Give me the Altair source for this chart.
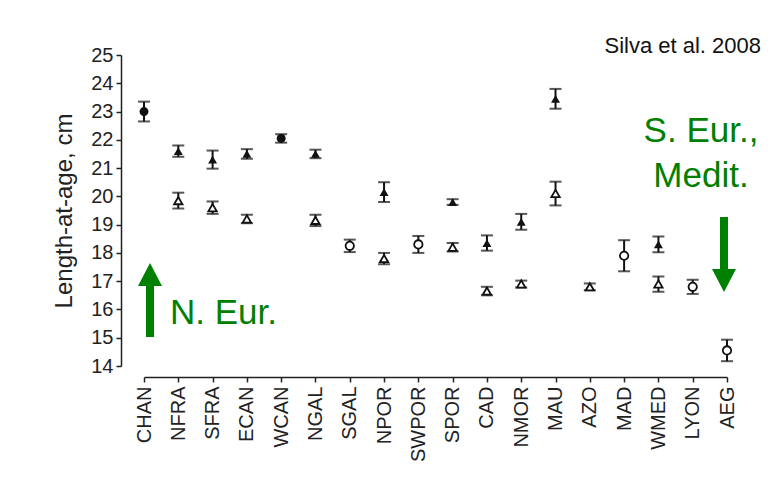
import altair as alt
import pandas as pd

# Categories (x axis)
cats = ["CHAN", "NFRA", "SFRA", "ECAN", "WCAN", "NGAL", "SGAL", "NPOR", "SWPOR",
        "SPOR", "CAD", "NMOR", "MAU", "AZO", "MAD", "WMED", "LYON", "AEG"]

# Each plotted point: category, mean length-at-age (cm), error (+/-), marker, filled
pt_cat = ["CHAN", "NFRA", "NFRA", "SFRA", "SFRA", "ECAN", "ECAN", "WCAN", "NGAL", "NGAL",
          "SGAL", "NPOR", "NPOR", "SWPOR", "SPOR", "SPOR", "CAD", "CAD", "NMOR", "NMOR",
          "MAU", "MAU", "AZO", "MAD", "WMED", "WMED", "LYON", "AEG"]
pt_val = [23.0, 21.6, 19.85, 21.3, 19.6, 21.5, 19.2, 22.05, 21.5, 19.15,
          18.25, 20.15, 17.8, 18.3, 19.8, 18.2, 18.35, 16.65, 19.1, 16.9,
          23.45, 20.1, 16.8, 17.9, 18.3, 16.9, 16.8, 14.55]
pt_err = [0.35, 0.2, 0.28, 0.32, 0.22, 0.17, 0.15, 0.15, 0.15, 0.2,
          0.22, 0.35, 0.2, 0.3, 0.1, 0.15, 0.27, 0.15, 0.28, 0.12,
          0.35, 0.42, 0.12, 0.55, 0.28, 0.27, 0.25, 0.38]
pt_marker = ["circle", "triangle-up", "triangle-up", "triangle-up", "triangle-up", "triangle-up",
             "triangle-up", "circle", "triangle-up", "triangle-up", "circle", "triangle-up",
             "triangle-up", "circle", "triangle-up", "triangle-up", "triangle-up", "triangle-up",
             "triangle-up", "triangle-up", "triangle-up", "triangle-up", "triangle-up", "circle",
             "triangle-up", "triangle-up", "circle", "circle"]
pt_filled = [True, True, False, True, False, True, False, True, True, False,
             False, True, False, False, True, False, True, False, True, False,
             True, False, False, False, True, False, False, False]

y_ticks = list(range(14, 26))

df = pd.DataFrame({"cat": pt_cat, "val": pt_val, "err": pt_err,
                   "marker": pt_marker, "filled": pt_filled})
df["lo"] = df["val"] - df["err"]
df["hi"] = df["val"] + df["err"]

FONT = "Liberation Sans"
GREEN = "#008000"

x_axis = alt.Axis(title=None, labelAngle=-90, labelAlign="right",
                  labelBaseline="middle", labelFontSize=20, labelFont=FONT,
                  labelColor="#222222", offset=11, tickSize=5, tickWidth=1.5,
                  domainWidth=1.5, domainColor="#222222", tickColor="#222222",
                  labelPadding=4, labelOverlap=False)
x_scale = alt.Scale(type="point", padding=0)
y_scale = alt.Scale(domain=[14, 25], nice=False, zero=False)
y_axis = alt.Axis(title="Length-at-age, cm", values=y_ticks, offset=23, tickSize=5,
                  tickWidth=1.5, domainWidth=1.5, domainColor="#222222",
                  tickColor="#222222", labelFontSize=20, labelFont=FONT,
                  labelColor="#222222", titleFontSize=24, titleFont=FONT,
                  titleFontWeight="normal", titleColor="#222222", labelPadding=3,
                  titlePadding=14, grid=False, labelOverlap=False, labelBound=False)


def X():
    return alt.X("cat:N", sort=cats, scale=x_scale, axis=x_axis)


def Y(field):
    return alt.Y(field, type="quantitative", scale=y_scale, axis=y_axis)


base = alt.Chart(df)

bars = base.mark_rule(color="#111111", strokeWidth=2).encode(
    x=X(), y=Y("lo"), y2="hi:Q")
cap_lo = base.mark_tick(color="#111111", thickness=2, size=12, orient="horizontal").encode(
    x=X(), y=Y("lo"))
cap_hi = base.mark_tick(color="#111111", thickness=2, size=12, orient="horizontal").encode(
    x=X(), y=Y("hi"))

shape_scale = alt.Scale(domain=["circle", "triangle-up"], range=["circle", "triangle-up"])
pts_filled = base.transform_filter("datum.filled").mark_point(
    filled=True, color="#111111", size=80, opacity=1).encode(
    x=X(), y=Y("val"),
    shape=alt.Shape("marker:N", scale=shape_scale, legend=None))
pts_open = base.transform_filter("!datum.filled").mark_point(
    filled=True, fill="white", stroke="#111111", strokeWidth=1.8, size=70, opacity=1).encode(
    x=X(), y=Y("val"),
    shape=alt.Shape("marker:N", scale=shape_scale, legend=None))

one = pd.DataFrame({"k": [0]})


def label(txt, x, y, size, color, align="left"):
    return alt.Chart(one).mark_text(text=txt, font=FONT, fontSize=size, color=color,
                                    align=align, baseline="alphabetic").encode(
        x=alt.value(x), y=alt.value(y))


up_arrow = "M-0.333,4.25L-0.333,0L-1,0L0,-1.92L1,0L0.333,0L0.333,4.25Z"
down_arrow = "M-0.333,-4.33L-0.333,0L-1,0L0,1.92L1,0L0.333,0L0.333,-4.33Z"

arr_up = alt.Chart(one).mark_point(shape=up_arrow, size=576, filled=True, color=GREEN,
                                   opacity=1).encode(x=alt.value(6), y=alt.value(231))
arr_dn = alt.Chart(one).mark_point(shape=down_arrow, size=576, filled=True, color=GREEN,
                                   opacity=1).encode(x=alt.value(580), y=alt.value(214))

chart = alt.layer(
    bars, cap_lo, cap_hi, pts_open, pts_filled,
    label("Silva et al. 2008", 617, -2, 22, "#111111", "right"),
    label("S. Eur.,", 557, 87, 35, GREEN, "center"),
    label("Medit.", 557, 132, 35, GREEN, "center"),
    label("N. Eur.", 26, 269, 35, GREEN, "left"),
    arr_up, arr_dn,
).properties(
    width=583, height=311,
    autosize=alt.AutoSizeParams(type="none"),
    padding={"left": 136, "top": 47, "right": 35, "bottom": 105},
    background="white",
).configure_view(stroke=None)

chart.save("out.html", embed_options={"renderer": "svg", "actions": False})
